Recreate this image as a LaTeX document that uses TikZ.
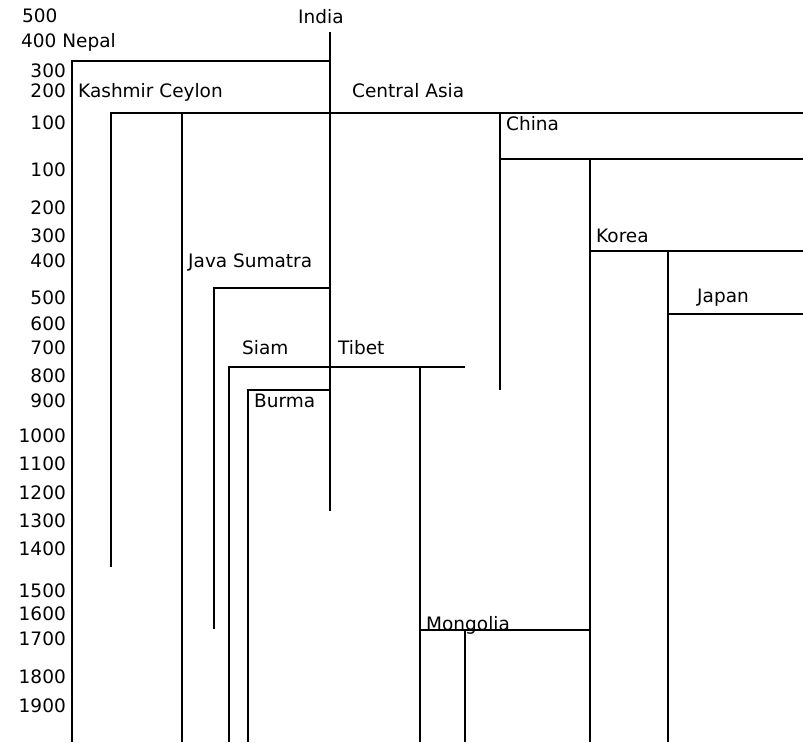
\documentclass[tikz,border=0pt]{standalone}
\usepackage{fontspec}
\setmainfont{DejaVu Sans}
\usepackage{tikz}

\begin{document}
\begin{tikzpicture}[
  x=1pt,y=-1pt,
  every node/.style={font=\fontsize{18.5}{22}\selectfont,inner sep=0pt},
  year/.style={anchor=base east},
  land/.style={anchor=base west},
  branch/.style={line width=2pt,black}
]
\useasboundingbox (0,0) rectangle (803,742);

% time scale
\node[land] (y500top) at (22,22.7) {500};
\node[land] (nepal) at (21,47) {400 Nepal};
\node[year] (y300a) at (66,77) {300};
\node[year] (y200a) at (66,97) {200};
\node[year] (y100a) at (66,129) {100};
\node[year] (y100b) at (66,176) {100};
\node[year] (y200) at (66,214) {200};
\node[year] (y300) at (66,242) {300};
\node[year] (y400) at (66,267) {400};
\node[year] (y500) at (66,304) {500};
\node[year] (y600) at (66,330) {600};
\node[year] (y700) at (66,354) {700};
\node[year] (y800) at (66,382) {800};
\node[year] (y900) at (66,407) {900};
\node[year] (y1000) at (66,442) {1000};
\node[year] (y1100) at (66,470) {1100};
\node[year] (y1200) at (66,499) {1200};
\node[year] (y1300) at (66,527) {1300};
\node[year] (y1400) at (66,555) {1400};
\node[year] (y1500) at (66,597) {1500};
\node[year] (y1600) at (66,620) {1600};
\node[year] (y1700) at (66,645) {1700};
\node[year] (y1800) at (66,683) {1800};
\node[year] (y1900) at (66,712) {1900};

% countries
\node[land] (india) at (298,23) {India};
\node[land] (kashmir) at (78,97) {Kashmir Ceylon};
\node[land] (casia) at (352,97) {Central Asia};
\node[land] (china) at (506,130) {China};
\node[land] (korea) at (596,242) {Korea};
\node[land] (java) at (188,267) {Java Sumatra};
\node[land] (japan) at (697,302.5) {Japan};
\node[land] (siam) at (242,354) {Siam};
\node[land] (tibet) at (338,354) {Tibet};
\node[land] (burma) at (254,407) {Burma};
\node[land] (mongolia) at (426,630) {Mongolia};

% branch points
\coordinate (indiaTop) at (330,32);
\coordinate (indiaEnd) at (330,511);
\coordinate (nepalEnd) at (72,742);
\coordinate (nepalFork) at (330,61);
\coordinate (asiaFork) at (330,113);
\coordinate (asiaEnd) at (803,113);
\coordinate (kashmirEnd) at (111,567);
\coordinate (ceylonEnd) at (182,742);
\coordinate (chinaEnd) at (500,390);
\coordinate (chinaRight) at (803,159);
\coordinate (koreaEnd) at (590,742);
\coordinate (koreaRight) at (803,251);
\coordinate (japanEnd) at (668,742);
\coordinate (japanRight) at (803,314);
\coordinate (javaEnd) at (214,629);
\coordinate (javaFork) at (330,288);
\coordinate (siamEnd) at (229,742);
\coordinate (tibetRight) at (465,367);
\coordinate (tibetEnd) at (420,742);
\coordinate (burmaEnd) at (248,742);
\coordinate (burmaFork) at (330,390);
\coordinate (mongolRight) at (590,630);
\coordinate (mongolEnd) at (465,742);

\draw[branch] (indiaTop) -- (indiaEnd);
\draw[branch] (nepalEnd) |- (nepalFork);
\draw[branch] (kashmirEnd) |- (asiaEnd);
\draw[branch] (ceylonEnd) -- (ceylonEnd |- asiaEnd);
\draw[branch] (chinaEnd) -- (chinaEnd |- asiaEnd);
\draw[branch] (chinaEnd |- chinaRight) -- (chinaRight);
\draw[branch] (koreaEnd) -- (koreaEnd |- chinaRight);
\draw[branch] (koreaEnd |- koreaRight) -- (koreaRight);
\draw[branch] (japanEnd) -- (japanEnd |- koreaRight);
\draw[branch] (japanEnd |- japanRight) -- (japanRight);
\draw[branch] (javaEnd) |- (javaFork);
\draw[branch] (siamEnd) |- (tibetRight);
\draw[branch] (tibetEnd) -- (tibetEnd |- tibetRight);
\draw[branch] (burmaEnd) |- (burmaFork);
\draw[branch] (tibetEnd |- mongolRight) -- (mongolRight);
\draw[branch] (mongolEnd) -- (mongolEnd |- mongolRight);
\end{tikzpicture}
\end{document}
